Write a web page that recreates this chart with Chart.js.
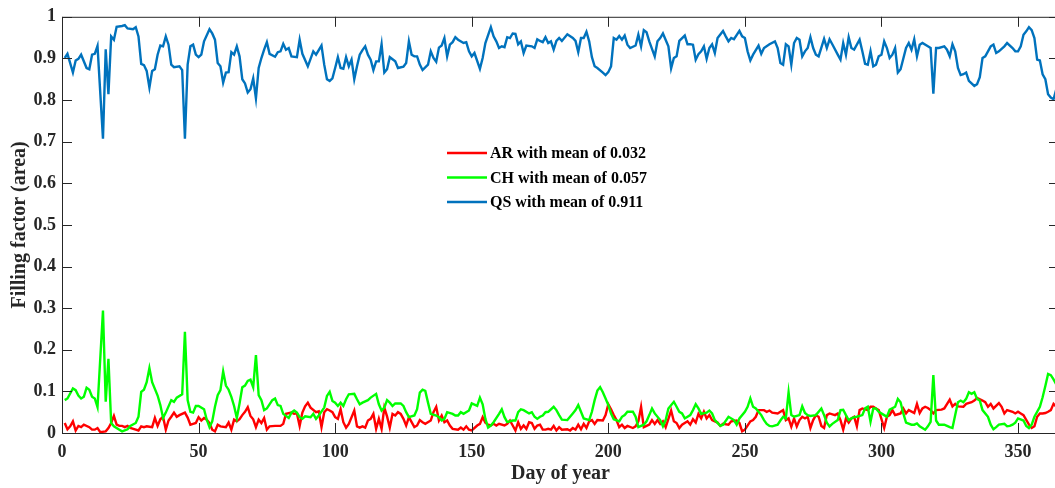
<!DOCTYPE html>
<html><head><meta charset="utf-8">
<script src="https://cdn.jsdelivr.net/npm/chart.js@4/dist/chart.umd.min.js"></script>
<style>html,body{margin:0;padding:0;background:#fff;overflow:hidden;}#wrap{width:1062px;height:488px;}</style>
</head><body><div id="wrap"><canvas id="c" width="1062" height="488"></canvas></div>
<script>
// ---- data: [day of year, filling factor] ----
const arPoints = [[1,.024],[2,.009],[3,.016],[4,.028],[5,.006],[6,.017],[7,.014],[8,.020],[10,.014],[11,.008],[12,.008],[13,.012],[14,.002],[16,.004],[17,.012],[18,.024],[19,.041],[20,.020],[21,.017],[22,.017],[23,.014],[24,.017],[25,.012],[27,.008],[28,.006],[29,.016],[30,.014],[31,.016],[32,.015],[33,.014],[34,.036],[35,.017],[36,.033],[37,.039],[38,.008],[39,.030],[40,.039],[41,.049],[42,.039],[43,.043],[45,.049],[46,.037],[47,.020],[48,.022],[49,.024],[50,.038],[51,.030],[52,.036],[53,.032],[54,.024],[55,.008],[56,.004],[57,.020],[58,.016],[60,.014],[61,.025],[62,.008],[63,.032],[64,.028],[65,.033],[66,.043],[67,.051],[68,.062],[69,.041],[70,.033],[71,.014],[72,.032],[73,.024],[74,.036],[75,.008],[76,.016],[78,.017],[80,.017],[81,.022],[82,.046],[84,.049],[85,.046],[86,.047],[87,.017],[88,.049],[89,.064],[90,.073],[91,.061],[93,.050],[94,.052],[95,.014],[96,.050],[97,.057],[98,.054],[99,.050],[100,.038],[101,.034],[102,.057],[103,.026],[104,.013],[105,.022],[107,.054],[108,.016],[109,.013],[110,.016],[111,.013],[112,.030],[113,.034],[114,.046],[115,.010],[116,.034],[117,.010],[118,.061],[119,.040],[120,.013],[121,.046],[122,.042],[123,.050],[124,.046],[125,.034],[126,.018],[127,.038],[128,.026],[129,.014],[130,.018],[131,.031],[132,.026],[133,.022],[135,.030],[136,.050],[137,.063],[138,.030],[139,.042],[140,.026],[141,.030],[142,.018],[143,.010],[145,.008],[146,.013],[147,.008],[148,.016],[149,.008],[150,.006],[152,.018],[153,.022],[154,.038],[155,.025],[156,.020],[157,.018],[158,.022],[159,.018],[160,.022],[162,.018],[163,.022],[164,.030],[165,.018],[166,.006],[167,.026],[168,.010],[169,.018],[170,.010],[171,.026],[172,.024],[173,.010],[174,.018],[175,.020],[176,.008],[177,.008],[178,.010],[179,.008],[180,.017],[181,.006],[182,.014],[183,.008],[185,.009],[186,.006],[187,.012],[188,.008],[189,.020],[190,.009],[191,.022],[192,.012],[193,.028],[194,.031],[195,.022],[196,.031],[198,.030],[199,.043],[200,.069],[201,.057],[202,.043],[203,.031],[204,.014],[205,.020],[206,.012],[207,.017],[209,.012],[210,.016],[211,.028],[212,.063],[213,.014],[214,.017],[215,.020],[216,.031],[217,.022],[218,.031],[219,.022],[220,.028],[221,.014],[223,.054],[224,.028],[225,.024],[226,.012],[227,.020],[229,.028],[230,.020],[231,.033],[232,.025],[233,.046],[234,.035],[235,.051],[236,.035],[237,.043],[238,.031],[240,.025],[241,.017],[242,.022],[244,.020],[245,.028],[247,.030],[248,.024],[249,.004],[250,.008],[252,.028],[253,.031],[254,.039],[255,.055],[257,.055],[258,.051],[259,.054],[260,.049],[262,.047],[263,.051],[264,.055],[265,.031],[266,.035],[267,.015],[268,.035],[269,.016],[270,.031],[271,.039],[272,.035],[273,.039],[274,.012],[275,.031],[276,.043],[277,.039],[278,.017],[279,.012],[280,.043],[281,.047],[283,.043],[284,.047],[285,.031],[286,.008],[287,.035],[288,.025],[289,.035],[290,.039],[291,.016],[292,.055],[293,.059],[295,.055],[296,.063],[297,.063],[298,.059],[299,.055],[301,.012],[302,.039],[303,.043],[304,.055],[305,.043],[306,.045],[307,.047],[308,.059],[309,.047],[310,.055],[312,.048],[313,.070],[314,.048],[315,.059],[316,.063],[317,.060],[318,.055],[319,.047],[320,.055],[322,.056],[323,.059],[325,.080],[326,.064],[327,.070],[328,.064],[330,.063],[331,.070],[333,.074],[334,.078],[335,.084],[337,.078],[338,.074],[339,.063],[340,.070],[341,.059],[343,.072],[344,.063],[345,.047],[346,.055],[348,.051],[349,.047],[350,.051],[351,.047],[352,.043],[354,.020],[355,.012],[356,.016],[357,.039],[358,.047],[359,.047],[360,.048],[361,.051],[362,.055],[363,.070],[364,.063]];

const chPoints = [[1,.079],[2,.083],[4,.107],[5,.103],[6,.090],[7,.083],[8,.087],[9,.109],[10,.104],[11,.087],[12,.083],[13,.062],[15,.294],[16,.075],[17,.178],[18,.024],[19,.016],[21,.008],[22,.004],[24,.009],[25,.017],[27,.024],[28,.039],[29,.099],[30,.104],[31,.122],[32,.156],[33,.122],[35,.090],[36,.067],[37,.036],[38,.049],[40,.079],[41,.075],[42,.085],[44,.093],[45,.243],[46,.079],[47,.051],[48,.049],[49,.065],[50,.065],[52,.057],[53,.032],[54,.014],[55,.028],[56,.063],[57,.091],[58,.103],[59,.148],[60,.114],[61,.104],[62,.087],[63,.065],[64,.036],[65,.071],[66,.110],[67,.114],[68,.125],[69,.128],[70,.110],[71,.187],[72,.091],[73,.079],[74,.055],[75,.059],[77,.079],[78,.083],[79,.067],[80,.065],[81,.046],[83,.036],[84,.049],[85,.054],[86,.049],[87,.038],[88,.034],[89,.040],[91,.038],[92,.046],[93,.034],[94,.042],[96,.061],[97,.089],[98,.099],[99,.077],[100,.073],[101,.065],[102,.073],[103,.065],[104,.081],[105,.093],[107,.094],[108,.081],[109,.069],[110,.073],[112,.079],[113,.085],[115,.094],[116,.069],[117,.054],[118,.061],[119,.079],[120,.073],[121,.065],[122,.071],[124,.071],[125,.065],[126,.050],[127,.038],[129,.042],[130,.057],[131,.097],[132,.104],[133,.101],[134,.073],[135,.046],[137,.042],[138,.038],[139,.030],[140,.034],[141,.050],[143,.046],[144,.042],[145,.042],[146,.050],[147,.046],[149,.054],[150,.071],[152,.065],[153,.085],[154,.069],[155,.034],[156,.013],[157,.018],[158,.026],[160,.046],[161,.057],[162,.038],[163,.026],[165,.030],[166,.030],[167,.050],[168,.057],[169,.055],[171,.047],[172,.050],[173,.039],[174,.034],[175,.039],[176,.042],[177,.050],[178,.051],[180,.063],[181,.055],[182,.043],[183,.032],[185,.031],[187,.047],[188,.055],[189,.067],[190,.051],[191,.035],[193,.031],[194,.051],[195,.079],[196,.102],[197,.110],[198,.098],[199,.083],[200,.067],[201,.047],[202,.033],[204,.028],[205,.039],[206,.043],[207,.051],[209,.051],[210,.039],[211,.014],[213,.020],[214,.028],[215,.043],[216,.059],[217,.047],[219,.031],[220,.016],[221,.031],[222,.059],[224,.075],[225,.063],[226,.051],[227,.047],[228,.035],[230,.043],[231,.055],[232,.069],[233,.059],[234,.046],[236,.049],[237,.054],[238,.047],[239,.031],[241,.017],[242,.020],[244,.039],[246,.031],[247,.020],[248,.035],[250,.051],[251,.063],[252,.083],[253,.063],[254,.059],[256,.043],[257,.031],[258,.022],[259,.017],[260,.016],[262,.020],[263,.030],[264,.039],[265,.035],[266,.098],[267,.043],[268,.039],[270,.043],[271,.064],[272,.048],[273,.043],[274,.041],[276,.043],[278,.059],[279,.043],[280,.025],[281,.016],[282,.022],[284,.031],[285,.055],[286,.056],[287,.043],[288,.031],[289,.035],[290,.038],[291,.039],[293,.043],[294,.059],[295,.063],[296,.027],[297,.059],[298,.059],[299,.051],[301,.043],[302,.039],[303,.056],[305,.063],[306,.082],[307,.074],[308,.047],[309,.025],[311,.020],[312,.020],[313,.023],[314,.016],[316,.008],[317,.016],[318,.027],[319,.139],[320,.030],[321,.020],[323,.020],[324,.017],[325,.014],[326,.012],[327,.043],[328,.074],[329,.078],[330,.074],[331,.082],[332,.098],[333,.094],[334,.098],[335,.082],[336,.078],[337,.055],[339,.039],[340,.020],[341,.009],[342,.014],[343,.020],[345,.022],[346,.016],[347,.017],[348,.020],[349,.025],[350,.035],[352,.030],[353,.017],[354,.012],[355,.020],[356,.039],[358,.063],[359,.086],[360,.113],[361,.142],[362,.139],[363,.129],[364,.117]];

const qsPoints = [[1,.901],[2,.911],[4,.866],[5,.895],[6,.899],[7,.909],[9,.877],[10,.874],[11,.909],[12,.911],[13,.930],[15,.707],[16,.922],[17,.814],[18,.953],[19,.945],[20,.976],[22,.978],[23,.980],[24,.972],[26,.970],[27,.975],[28,.953],[29,.887],[30,.884],[31,.870],[32,.830],[33,.870],[34,.874],[35,.909],[36,.931],[37,.929],[38,.953],[39,.933],[40,.885],[41,.879],[43,.881],[44,.872],[45,.707],[46,.885],[47,.929],[48,.933],[49,.909],[50,.903],[51,.909],[52,.941],[54,.970],[55,.960],[56,.945],[57,.889],[58,.881],[59,.842],[60,.866],[61,.867],[62,.915],[63,.909],[64,.929],[65,.905],[66,.850],[67,.840],[68,.818],[69,.826],[70,.852],[71,.804],[72,.877],[73,.901],[74,.921],[75,.939],[76,.911],[78,.904],[79,.915],[80,.917],[81,.935],[82,.921],[83,.925],[84,.905],[86,.903],[87,.945],[88,.911],[90,.881],[92,.917],[93,.909],[95,.931],[96,.885],[97,.850],[98,.846],[99,.852],[100,.877],[101,.903],[102,.877],[103,.875],[104,.903],[105,.881],[106,.897],[107,.850],[108,.881],[109,.909],[110,.920],[111,.929],[112,.909],[113,.897],[114,.872],[115,.893],[116,.893],[117,.934],[118,.866],[119,.874],[120,.903],[122,.893],[123,.877],[125,.880],[126,.889],[127,.941],[128,.909],[129,.905],[130,.905],[131,.885],[132,.872],[134,.885],[135,.917],[136,.901],[137,.892],[138,.926],[139,.931],[140,.949],[141,.905],[142,.933],[143,.939],[144,.951],[145,.945],[147,.937],[148,.939],[149,.917],[150,.905],[151,.913],[153,.875],[154,.901],[155,.937],[157,.975],[158,.953],[159,.941],[160,.925],[161,.929],[162,.927],[163,.951],[164,.949],[165,.960],[166,.959],[167,.934],[168,.941],[169,.913],[170,.931],[172,.929],[173,.925],[174,.946],[175,.942],[176,.939],[177,.951],[178,.937],[179,.941],[180,.921],[181,.942],[182,.949],[183,.942],[185,.958],[187,.949],[188,.942],[189,.915],[190,.949],[191,.949],[192,.964],[193,.941],[194,.903],[195,.881],[196,.877],[198,.866],[199,.860],[200,.867],[201,.881],[202,.949],[203,.945],[204,.954],[205,.945],[206,.955],[207,.933],[208,.925],[210,.931],[211,.957],[212,.929],[213,.968],[214,.963],[215,.941],[217,.905],[218,.941],[219,.949],[220,.960],[222,.929],[223,.876],[224,.901],[225,.905],[226,.942],[228,.955],[229,.934],[230,.934],[231,.933],[232,.897],[233,.910],[234,.917],[235,.929],[236,.899],[237,.925],[238,.934],[239,.913],[240,.949],[242,.966],[243,.953],[244,.941],[245,.949],[246,.946],[248,.966],[249,.953],[250,.949],[251,.917],[252,.895],[253,.909],[255,.931],[256,.911],[257,.925],[259,.934],[261,.941],[262,.925],[263,.889],[264,.885],[265,.934],[266,.929],[267,.885],[268,.937],[269,.949],[270,.945],[271,.905],[272,.917],[273,.925],[274,.951],[275,.925],[276,.909],[277,.905],[279,.947],[280,.925],[281,.946],[282,.934],[284,.909],[285,.897],[286,.937],[287,.909],[288,.951],[289,.925],[290,.921],[292,.945],[293,.917],[294,.887],[295,.885],[296,.917],[297,.881],[298,.885],[299,.905],[300,.909],[301,.941],[302,.925],[303,.901],[304,.909],[305,.925],[306,.866],[307,.874],[309,.925],[310,.937],[311,.921],[312,.946],[313,.905],[314,.933],[315,.937],[317,.929],[318,.925],[319,.815],[320,.925],[321,.925],[323,.929],[324,.921],[325,.905],[326,.934],[327,.917],[328,.877],[329,.860],[330,.862],[331,.866],[332,.846],[334,.834],[335,.838],[336,.855],[337,.901],[338,.905],[340,.929],[341,.933],[342,.913],[343,.917],[345,.929],[346,.937],[348,.925],[349,.917],[350,.917],[351,.929],[352,.957],[353,.965],[354,.975],[355,.968],[356,.949],[357,.897],[358,.895],[359,.862],[360,.850],[361,.814],[362,.806],[363,.802],[364,.826]];

const seriesLabels = ['AR with mean of 0.032', 'CH with mean of 0.057', 'QS with mean of 0.911'];
const xTickValues = [0, 50, 100, 150, 200, 250, 300, 350];
const yTickValues = [0, 0.1, 0.2, 0.3, 0.4, 0.5, 0.6, 0.7, 0.8, 0.9, 1];

const toXY = pts => pts.map(p => ({x: p[0], y: p[1]}));
const fmtTick = v => String(Number(v.toFixed(2)));
const AXIS_COLOR = '#262626';
const FONT = 'Liberation Serif';

const framePlugin = {
  id: 'frame',
  afterDatasetsDraw(chart) {
    const {ctx, chartArea: a, scales: {x, y}} = chart;
    ctx.save();
    ctx.strokeStyle = AXIS_COLOR;
    ctx.lineWidth = 1;
    ctx.beginPath();
    ctx.rect(a.left + 0.5, a.top + 0.5, a.right - a.left, a.bottom - a.top);
    ctx.stroke();
    const L = 10;
    ctx.beginPath();
    x.ticks.forEach(t => {
      const px = Math.round(x.getPixelForValue(t.value)) + 0.5;
      ctx.moveTo(px, a.bottom); ctx.lineTo(px, a.bottom - L);
      ctx.moveTo(px, a.top); ctx.lineTo(px, a.top + L);
    });
    y.ticks.forEach(t => {
      const py = Math.round(y.getPixelForValue(t.value)) + 0.5;
      ctx.moveTo(a.left, py); ctx.lineTo(a.left + L, py);
      ctx.moveTo(a.right, py); ctx.lineTo(a.right - L, py);
    });
    ctx.stroke();
    // legend inside the axes
    const ds = chart.data.datasets;
    ctx.font = 'bold 16px "' + FONT + '"';
    ctx.textBaseline = 'middle';
    ctx.textAlign = 'left';
    ds.forEach((d, i) => {
      const ly = 153 + i * 24.5;
      ctx.strokeStyle = d.borderColor;
      ctx.lineWidth = 2.4;
      ctx.beginPath(); ctx.moveTo(447, ly); ctx.lineTo(487, ly); ctx.stroke();
      ctx.fillStyle = '#000';
      ctx.fillText(d.label, 490, ly + 1);
    });
    ctx.restore();
  }
};

new Chart(document.getElementById('c'), {
  type: 'line',
  data: {
    datasets: [
      {label: seriesLabels[0], data: toXY(arPoints), borderColor: '#ff0000', order: 3},
      {label: seriesLabels[1], data: toXY(chPoints), borderColor: '#00ff00', order: 2},
      {label: seriesLabels[2], data: toXY(qsPoints), borderColor: '#0072bd', order: 1}
    ]
  },
  options: {
    responsive: false, animation: false, devicePixelRatio: 1,
    layout: {padding: {top: 12, right: 3, left: 0, bottom: 0}},
    plugins: {legend: {display: false}, tooltip: {enabled: false}},
    elements: {point: {radius: 0}, line: {borderWidth: 2.4, tension: 0, fill: false}},
    scales: {
      x: {
        type: 'linear', min: 0, max: 365,
        afterBuildTicks: s => { s.ticks = xTickValues.map(v => ({value: v})); },
        afterFit: s => { s.height = 55; },
        grid: {display: false, drawTicks: false}, border: {display: false},
        ticks: {font: {family: FONT, size: 18, weight: 'bold'}, color: AXIS_COLOR, padding: 9, maxRotation: 0, autoSkip: false, callback: fmtTick},
        title: {display: true, text: 'Day of year', font: {family: FONT, size: 20, weight: 'bold'}, color: AXIS_COLOR, padding: {top: 0, bottom: 2}}
      },
      y: {
        type: 'linear', min: 0, max: 1,
        afterBuildTicks: s => { s.ticks = yTickValues.map(v => ({value: v})); },
        afterFit: s => { s.width = 62; },
        grid: {display: false, drawTicks: false}, border: {display: false},
        ticks: {font: {family: FONT, size: 18, weight: 'bold'}, color: AXIS_COLOR, padding: 6, autoSkip: false, callback: fmtTick},
        title: {display: true, text: 'Filling factor (area)', font: {family: FONT, size: 20, weight: 'bold'}, color: AXIS_COLOR, padding: {top: 8, bottom: 0}}
      }
    }
  },
  plugins: [framePlugin]
});
</script></body></html>
